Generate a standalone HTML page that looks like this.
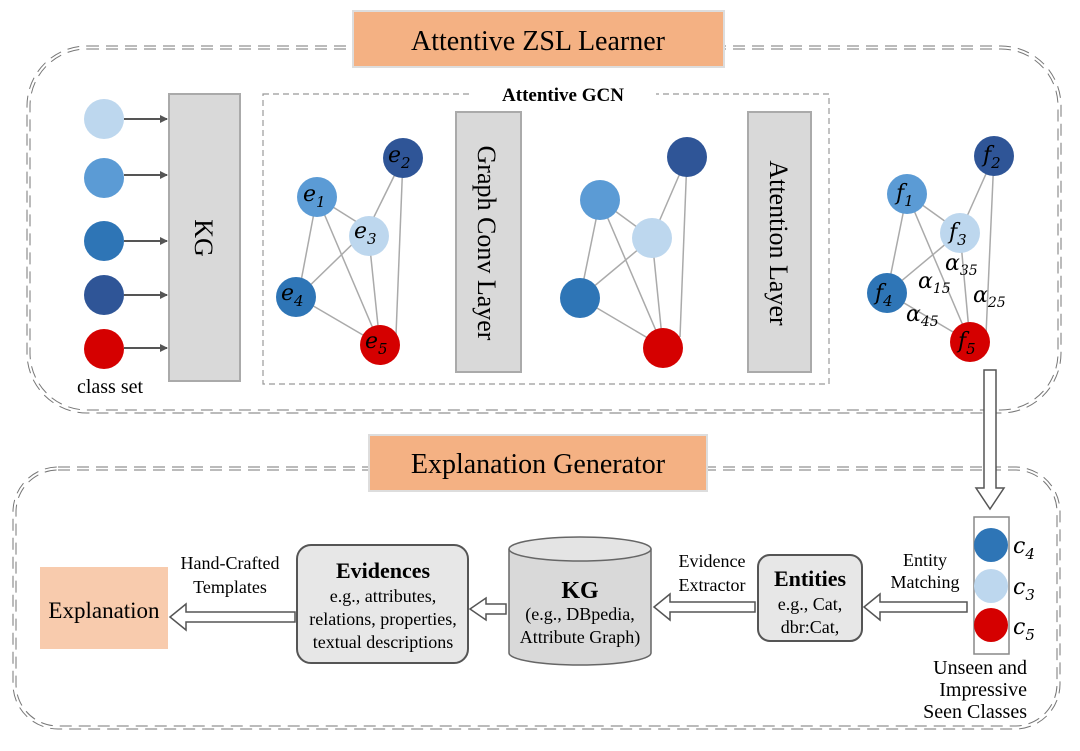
<!DOCTYPE html>
<html><head><meta charset="utf-8"><style>
body{margin:0;background:#fff}
svg{display:block}
text{font-family:"Liberation Serif",serif}
.it{font-family:"DejaVu Serif",serif;font-style:italic}
</style></head><body>
<svg width="1080" height="751" viewBox="0 0 1080 751" xmlns="http://www.w3.org/2000/svg">
<defs>
<marker id="ah" markerWidth="8" markerHeight="8" refX="7" refY="4" orient="auto" markerUnits="userSpaceOnUse"><path d="M0,0 L8,4 L0,8 z" fill="#555"/></marker>
</defs>
<g fill="none" stroke="#777" stroke-width="1" stroke-dasharray="12,7">
<rect x="27" y="46" width="1034" height="367" rx="60"/>
<rect x="30" y="49" width="1028" height="361" rx="57"/>
<rect x="13" y="467" width="1047" height="262" rx="45"/>
<rect x="16" y="470" width="1041" height="256" rx="42"/>
</g>
<rect x="353" y="11" width="371" height="56" fill="#f4b183" stroke="#ddd" stroke-width="2"/>
<text x="538" y="50" font-size="28" text-anchor="middle">Attentive ZSL Learner</text>
<rect x="369" y="435" width="338" height="56" fill="#f4b183" stroke="#ddd" stroke-width="2"/>
<text x="538" y="473" font-size="28" text-anchor="middle">Explanation Generator</text>

<g stroke="#555" stroke-width="2" marker-end="url(#ah)">
<line x1="124" y1="119" x2="167" y2="119"/>
<line x1="124" y1="175" x2="167" y2="175"/>
<line x1="124" y1="241" x2="167" y2="241"/>
<line x1="124" y1="295" x2="167" y2="295"/>
<line x1="124" y1="348" x2="167" y2="348"/>
</g>
<circle cx="104" cy="119" r="20" fill="#bdd7ee"/>
<circle cx="104" cy="178" r="20" fill="#5b9bd5"/>
<circle cx="104" cy="241" r="20" fill="#2e75b6"/>
<circle cx="104" cy="295" r="20" fill="#2f5597"/>
<circle cx="104" cy="349" r="20" fill="#d50000"/>
<text x="110" y="393" font-size="20" text-anchor="middle">class set</text>
<rect x="169" y="94" width="71" height="287" fill="#d9d9d9" stroke="#aaa" stroke-width="2"/>
<text transform="translate(195,238) rotate(90)" font-size="26" text-anchor="middle">KG</text>

<rect x="263" y="94" width="566" height="290" fill="none" stroke="#999" stroke-width="1.2" stroke-dasharray="6,4"/>
<rect x="470" y="82" width="186" height="24" fill="#fff"/>
<text x="563" y="101" font-size="19" font-weight="bold" text-anchor="middle">Attentive GCN</text>
<rect x="456" y="112" width="65" height="260" fill="#d9d9d9" stroke="#aaa" stroke-width="2"/>
<text transform="translate(478,243) rotate(90)" font-size="26" text-anchor="middle">Graph Conv Layer</text>
<rect x="748" y="112" width="63" height="260" fill="#d9d9d9" stroke="#aaa" stroke-width="2"/>
<text transform="translate(770,243) rotate(90)" font-size="26" text-anchor="middle">Attention Layer</text>

<g stroke="#aaa" stroke-width="1.5">
<line x1="317" y1="197" x2="368" y2="229"/><line x1="403" y1="158" x2="368" y2="229"/><line x1="403" y1="158" x2="396" y2="335"/>
<line x1="317" y1="197" x2="298" y2="297"/><line x1="317" y1="197" x2="380" y2="345"/><line x1="368" y1="229" x2="298" y2="297"/>
<line x1="368" y1="229" x2="380" y2="345"/><line x1="298" y1="297" x2="380" y2="345"/>
</g>
<circle cx="317" cy="197" r="20" fill="#5b9bd5"/><circle cx="403" cy="158" r="20" fill="#2f5597"/>
<circle cx="369" cy="236" r="20" fill="#bdd7ee"/><circle cx="296" cy="297" r="20" fill="#2e75b6"/>
<circle cx="380" cy="345" r="20" fill="#d50000"/>
<g font-size="22"><text x="303" y="201" class="it">e<tspan font-size="15" dy="6">1</tspan></text>
<text x="388" y="162" class="it">e<tspan font-size="15" dy="6">2</tspan></text>
<text x="354" y="238" class="it">e<tspan font-size="15" dy="6">3</tspan></text>
<text x="281" y="300" class="it">e<tspan font-size="15" dy="6">4</tspan></text>
<text x="365" y="348" class="it">e<tspan font-size="15" dy="6">5</tspan></text></g>

<g stroke="#aaa" stroke-width="1.5">
<line x1="600" y1="200" x2="652" y2="238"/><line x1="687" y1="157" x2="652" y2="238"/><line x1="687" y1="157" x2="680" y2="337"/>
<line x1="600" y1="200" x2="580" y2="298"/><line x1="600" y1="200" x2="663" y2="347"/><line x1="652" y1="238" x2="580" y2="298"/>
<line x1="652" y1="238" x2="663" y2="347"/><line x1="580" y1="298" x2="663" y2="347"/>
</g>
<circle cx="600" cy="200" r="20" fill="#5b9bd5"/><circle cx="687" cy="157" r="20" fill="#2f5597"/>
<circle cx="652" cy="238" r="20" fill="#bdd7ee"/><circle cx="580" cy="298" r="20" fill="#2e75b6"/>
<circle cx="663" cy="348" r="20" fill="#d50000"/>

<g stroke="#aaa" stroke-width="1.5">
<line x1="907" y1="194" x2="960" y2="232"/><line x1="994" y1="156" x2="960" y2="232"/><line x1="994" y1="156" x2="986" y2="335"/>
<line x1="907" y1="194" x2="887" y2="293"/><line x1="907" y1="194" x2="970" y2="342"/><line x1="960" y1="232" x2="887" y2="293"/>
<line x1="960" y1="232" x2="970" y2="342"/><line x1="887" y1="293" x2="970" y2="342"/>
</g>
<circle cx="907" cy="194" r="20" fill="#5b9bd5"/><circle cx="994" cy="156" r="20" fill="#2f5597"/>
<circle cx="960" cy="233" r="20" fill="#bdd7ee"/><circle cx="887" cy="293" r="20" fill="#2e75b6"/>
<circle cx="970" cy="342" r="20" fill="#d50000"/>
<g font-size="22"><text x="896" y="200" class="it">f<tspan font-size="15" dy="6">1</tspan></text>
<text x="983" y="162" class="it">f<tspan font-size="15" dy="6">2</tspan></text>
<text x="949" y="239" class="it">f<tspan font-size="15" dy="6">3</tspan></text>
<text x="875" y="300" class="it">f<tspan font-size="15" dy="6">4</tspan></text>
<text x="958" y="348" class="it">f<tspan font-size="15" dy="6">5</tspan></text>
<text x="945" y="270" class="it">α<tspan font-size="14" dy="5">35</tspan></text>
<text x="918" y="288" class="it">α<tspan font-size="14" dy="5">15</tspan></text>
<text x="973" y="302" class="it">α<tspan font-size="14" dy="5">25</tspan></text>
<text x="906" y="321" class="it">α<tspan font-size="14" dy="5">45</tspan></text></g>

<polygon points="984,370 996,370 996,488 1004,488 990,509 976,488 984,488" fill="#fff" stroke="#555" stroke-width="1.5"/>

<rect x="974" y="517" width="35" height="137" fill="#fff" stroke="#888" stroke-width="1.5"/>
<circle cx="991" cy="545" r="17" fill="#2e75b6"/><circle cx="991" cy="586" r="17" fill="#bdd7ee"/><circle cx="991" cy="625" r="17" fill="#d50000"/>
<g font-size="22"><text x="1013" y="553" class="it">c<tspan font-size="15" dy="6">4</tspan></text>
<text x="1013" y="594" class="it">c<tspan font-size="15" dy="6">3</tspan></text>
<text x="1013" y="634" class="it">c<tspan font-size="15" dy="6">5</tspan></text></g>
<g font-size="20" text-anchor="end"><text x="1027" y="674">Unseen and</text><text x="1027" y="696">Impressive</text><text x="1027" y="718">Seen Classes</text></g>

<g fill="#fff" stroke="#555" stroke-width="1.5">
<polygon points="967,602 967,612 880,612 880,620 864,607 880,594 880,602"/>
<polygon points="755,602 755,612 670,612 670,620 654,607 670,594 670,602"/>
<polygon points="506,604 506,614 486,614 486,620 470,609 486,598 486,604"/>
<polygon points="295,612 295,622 186,622 186,630 170,617 186,604 186,612"/>
</g>
<g font-size="18" text-anchor="middle"><text x="925" y="566">Entity</text><text x="925" y="588">Matching</text>
<text x="712" y="567">Evidence</text><text x="712" y="591">Extractor</text>
<text x="230" y="569">Hand-Crafted</text><text x="230" y="593">Templates</text></g>

<rect x="758" y="555" width="104" height="86" rx="12" fill="#e7e7e7" stroke="#555" stroke-width="2"/>
<text x="810" y="586" font-size="22" font-weight="bold" text-anchor="middle">Entities</text>
<text x="810" y="610" font-size="18" text-anchor="middle">e.g., Cat,</text>
<text x="810" y="633" font-size="18" text-anchor="middle">dbr:Cat,</text>

<path d="M509,549 L509,653 A71,12 0 0 0 651,653 L651,549" fill="#d9d9d9" stroke="#666" stroke-width="1.5"/>
<ellipse cx="580" cy="549" rx="71" ry="12" fill="#e4e4e4" stroke="#666" stroke-width="1.5"/>
<text x="580" y="598" font-size="24" font-weight="bold" text-anchor="middle">KG</text>
<text x="580" y="620" font-size="18" text-anchor="middle">(e.g., DBpedia,</text>
<text x="580" y="643" font-size="18" text-anchor="middle">Attribute Graph)</text>

<rect x="297" y="545" width="171" height="118" rx="14" fill="#e7e7e7" stroke="#555" stroke-width="2"/>
<text x="383" y="578" font-size="22" font-weight="bold" text-anchor="middle">Evidences</text>
<text x="383" y="602" font-size="18" text-anchor="middle">e.g.,  attributes,</text>
<text x="383" y="625" font-size="18" text-anchor="middle">relations, properties,</text>
<text x="383" y="648" font-size="18" text-anchor="middle">textual descriptions</text>

<rect x="40" y="567" width="128" height="82" fill="#f8cbad"/>
<text x="104" y="618" font-size="23" text-anchor="middle">Explanation</text>
</svg>
</body></html>
